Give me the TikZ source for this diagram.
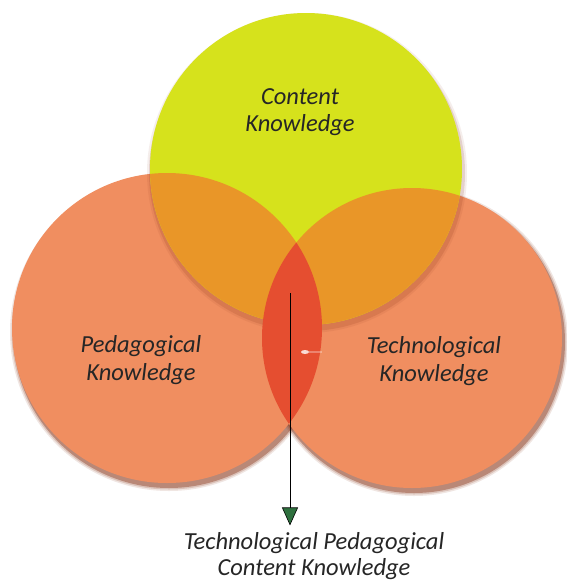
\documentclass[tikz,border=0pt]{standalone}
\usepackage{fontspec}
\setmainfont{Carlito}
\usetikzlibrary{arrows.meta}

\definecolor{contentyellow}{RGB}{214,226,28}
\definecolor{knowsalmon}{RGB}{240,142,96}
\definecolor{overlaporange}{RGB}{233,150,40}
\definecolor{corered}{RGB}{229,78,48}
\definecolor{rimbrown}{RGB}{135,50,22}
\definecolor{tipgreen}{RGB}{46,112,62}

\begin{document}
\begin{tikzpicture}[
            x=1pt, y=-1pt,
            disc/.style={circle, minimum size=#1, inner sep=0pt},
            label/.style={font=\fontsize{24.5}{27.5}\selectfont\itshape, text=black!85, align=center, inner sep=0pt},
            arrow/.style={-{Triangle[width=16pt, length=18pt, fill=tipgreen]}, semithick, black}
        ]
            \useasboundingbox (0,0) rectangle (566,582);
            \fill[white] (0,0) rectangle (566,582);

            \node[disc=312pt] (content) at (306,169) {};
            \node[disc=310pt] (pedagogy) at (167,328) {};
            \node[disc=300pt] (technology) at (412,338) {};

            % soft rims below the two lower circles
            \foreach \r/\o in {4/0.12, 2.5/0.2, 1/0.4}
            {
                \fill[rimbrown, opacity=\o] ([shift={(2,4)}]pedagogy.center) circle[radius=155pt+\r pt];
                \fill[rimbrown, opacity=\o] ([shift={(2,4)}]technology.center) circle[radius=150pt+\r pt];
            }
            \fill[knowsalmon] (pedagogy.center) circle[radius=155pt];
            \fill[knowsalmon] (technology.center) circle[radius=150pt];

            % the upper circle casts a lighter rim
            \foreach \r/\o in {4/0.08, 2/0.15}
                \fill[rimbrown, opacity=\o] ([shift={(1,4)}]content.center) circle[radius=156pt+\r pt];
            \fill[contentyellow] (content.center) circle[radius=156pt];

            % pairwise overlaps with the upper circle
            \begin{scope}
                \clip (content.center) circle[radius=156pt];
                \fill[overlaporange] (pedagogy.center) circle[radius=155pt];
                \fill[overlaporange] (technology.center) circle[radius=150pt];
            \end{scope}

            % lens of the two lower circles
            \begin{scope}
                \clip (pedagogy.center) circle[radius=155pt];
                \fill[corered] (technology.center) circle[radius=150pt];
            \end{scope}
            \fill[white, opacity=0.8] (305,352) ellipse[x radius=4pt, y radius=2pt];
            \fill[white, opacity=0.3] (309,351) rectangle (322,353);

            \node[label] (ck) at (300,112) {Content\\Knowledge};
            \node[label] (pk) at (141,360) {Pedagogical\\Knowledge};
            \node[label] (tk) at (434,361) {Technological\\Knowledge};
            \node[label, font=\fontsize{24.5}{25.5}\selectfont\itshape] (tpck) at (314,556) {Technological Pedagogical\\Content Knowledge};

            \coordinate (core) at (290,293);
            \draw[arrow, shorten >=7pt] (core) -- (core |- tpck.north);
        \end{tikzpicture}
\end{document}
